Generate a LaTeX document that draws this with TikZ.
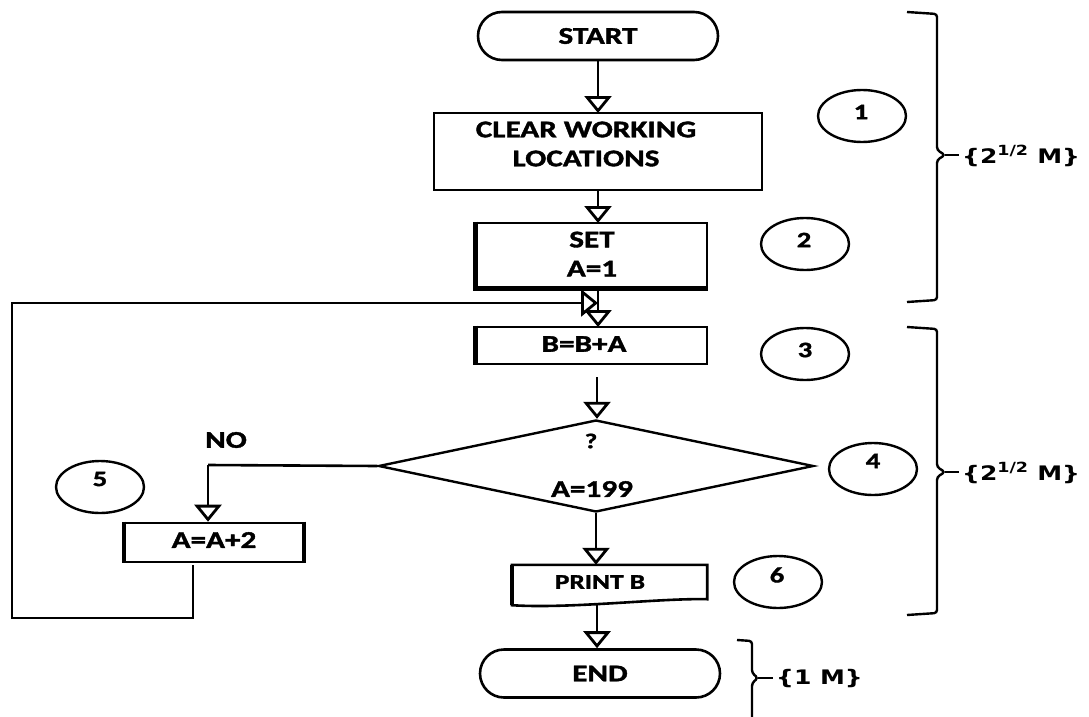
\documentclass[tikz,border=0pt]{standalone}
\usepackage{fontspec}
\usetikzlibrary{arrows.meta,shapes.geometric,shapes.misc,calc}
\newfontfamily\flowfont{Carlito}[FakeStretch=1.3, FakeBold=1.5]
\newfontfamily\bracefont{DejaVu Sans}[FakeStretch=1.25]
\begin{document}
\begin{tikzpicture}[x=1pt,y=-1pt,
  box/.style={draw, line width=2.6pt, rectangle, inner sep=0pt},
  term/.style={draw, line width=2.6pt, rounded rectangle, minimum width=240pt, minimum height=48pt, inner sep=0pt},
  num/.style={draw, ellipse, line width=2.4pt, minimum width=88pt, minimum height=52pt, inner sep=0pt},
  txt/.style={font=\flowfont\bfseries\fontsize{24}{29}\selectfont, align=center, inner sep=0pt},
  smalltxt/.style={font=\flowfont\bfseries\fontsize{21}{24}\selectfont, align=center, inner sep=0pt},
  numtxt/.style={font=\flowfont\bfseries\fontsize{22}{24}\selectfont, inner sep=0pt},
  bracetxt/.style={font=\bracefont\bfseries\fontsize{20}{24}\selectfont, anchor=west, inner sep=0pt},
  line/.style={line width=2.6pt},
  arr/.style={line width=2.8pt, -{Triangle[open, length=17pt, width=27pt, line width=2.8pt]}},
  bracket/.style={line width=2.4pt, rounded corners=3pt}]
\useasboundingbox (0,0) rectangle (1089,717);

% terminals and boxes
\node[term, txt] (start) at (598,36) {START};
\node[box, minimum width=328pt, minimum height=77pt] (clear) at (598,151.5) {};
\node[txt] (clearT) at (586,144) {CLEAR WORKING\\LOCATIONS};
\node[box, minimum width=230pt, minimum height=64pt] (set) at (592,255) {};
\node[txt] (setT) at (592,254) {SET\\A=1};
\draw[line width=4.5pt] (set.north west) -- (set.south west) -- (set.south east);
\node[box, minimum width=230pt, minimum height=37pt] (bba) at (592,345.5) {};
\node[txt] (bbaT) at (584,344) {B=B+A};
\draw[line width=4.5pt] (bba.north west) -- (bba.south west);
\node[draw, diamond, line width=2.4pt, minimum width=435pt, minimum height=92pt, aspect=4.73, inner sep=0pt] (dec) at (596,466) {};
\node[smalltxt] (q) at (591,441) {?};
\node[txt] (decT) at (592,489) {A=199};
\node[minimum width=195pt, minimum height=40pt, inner sep=0pt] (print) at (609.5,585) {};
\draw[line width=2.6pt] (print.north west) -- (print.north east) -- ($(print.south east)+(0,-6)$)
  .. controls (660,598) and (570,609) .. (print.south west) -- cycle;
\draw[line width=4.5pt] (print.north west) -- (print.south west);
\node[smalltxt] (printT) at (600,582) {PRINT B};
\node[term, txt] (end) at (600,673.5) {END};
\node[box, minimum width=178pt, minimum height=39pt] (a2) at (214,542.5) {};
\draw[line width=4pt] (a2.north west) -- (a2.south west);
\draw[line width=4pt] (a2.north east) -- (a2.south east);
\node[txt] (a2T) at (214,540) {A=A+2};
\node[txt] (no) at (226,440) {NO};

% step numbers
\node[num] (n1) at (862,116) {}; \node[numtxt] at (861,112) {1};
\node[num] (n2) at (805,244) {}; \node[numtxt] at (804,240) {2};
\node[num] (n3) at (805,354) {}; \node[numtxt] at (805,350) {3};
\node[num] (n4) at (873,469) {}; \node[numtxt] at (873,461) {4};
\node[num] (n5) at (100,487) {}; \node[numtxt] at (100,479) {5};
\node[num] (n6) at (778,582) {}; \node[numtxt] at (777,575) {6};

% connectors
\coordinate (jn) at (598,303);
\coordinate (gap) at (597,377);
\coordinate (lp) at (193,565);
\draw[arr] (598,60) -- (598,113);
\draw[arr] (598,190) -- (598,223);
\draw[line] (598,287) -- (jn);
\draw[arr] (jn) -- (598,327);
\draw[arr] (gap) -- (gap |- dec.north);
\draw[arr] (dec.south) -- (print.north -| dec.south);
\draw[arr] (597,605) -- (end.north -| 597,0);
\draw[line] (dec.west) -- (208,465);
\draw[arr] (208,465) -- (a2.north -| 208,0);
\draw[line] (lp) -- (193,618) -- (12,618) -- (12,303) -- ($(jn)+(-20,0)$);
\draw[arr] ($(jn)+(-25,0)$) -- (jn);

% brackets
\draw[bracket] (907,12) -- (937,14) -- (937,150) -- (945,155) -- (937,160) -- (937,300) -- (907,302);
\draw[line width=2.4pt] (945,155) -- (959,155);
\node[bracetxt] (b1) at (962,156) {\{2\textsuperscript{1/2} M\}};
\draw[bracket] (907,327) -- (937,329) -- (937,467) -- (945,472) -- (937,477) -- (937,613) -- (907,615);
\draw[line width=2.4pt] (945,472) -- (959,472);
\node[bracetxt] (b2) at (962,473) {\{2\textsuperscript{1/2} M\}};
\draw[bracket] (737,640) -- (752,641) -- (752,673) -- (758,678) -- (752,683) -- (752,720);
\draw[line width=2.4pt] (758,678) -- (773,678);
\node[bracetxt] (b3) at (776,679) {\{1 M\}};
\end{tikzpicture}
\end{document}
